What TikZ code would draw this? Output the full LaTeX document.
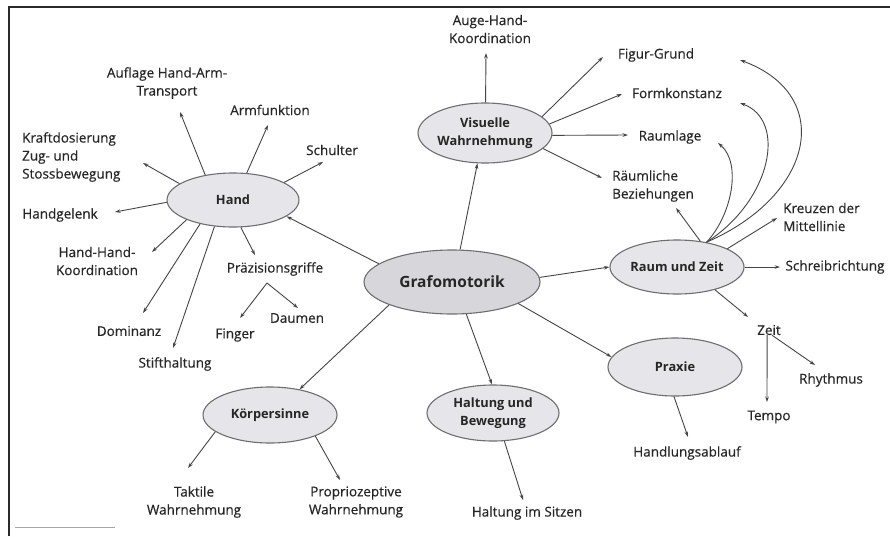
\documentclass[tikz,border=0pt]{standalone}
\usepackage{fontspec}
\setmainfont{Open Sans}
\newfontfamily\labfont[FakeBold=0.4]{Open Sans}
\usetikzlibrary{shapes.geometric,arrows.meta}
\definecolor{ink}{HTML}{262626}
\definecolor{linegray}{HTML}{454545}
\definecolor{edgegray}{HTML}{6E6E6E}
\definecolor{hubfill}{HTML}{E6E6EA}
\definecolor{grafofill}{HTML}{D7D7DB}
\definecolor{framegray}{HTML}{2A2A2A}
\begin{document}
\begin{tikzpicture}[x=1pt,y=-1pt,
  lab/.style={inner sep=0pt, align=center, text=ink, font=\labfont\fontsize{13.5}{18}\selectfont},
  hub/.style={ellipse, draw=edgegray, line width=1.1pt, fill=hubfill, inner sep=0pt},
  hubtext/.style={inner sep=0pt, align=center, text=ink, font=\fontsize{12.8}{17.5}\selectfont\bfseries},
  arr/.style={draw=linegray, line width=0.9pt, -{Stealth[length=5.5pt,width=3.6pt]}}]
\useasboundingbox (0,0) rectangle (890,536);
\fill[white] (0,0) rectangle (890,536);
% frame
\draw[line width=1.6pt, framegray] (9,536) -- (9,7) -- (890,7);
\draw[line width=0.8pt, black!35] (15,527) -- (115,527);

% hubs
\node[hub, fill=grafofill, minimum width=176, minimum height=64] (grafo) at (452,282) {};
\node[hubtext, font=\fontsize{15.5}{18}\selectfont\bfseries] (grafot) at (grafo) {Grafomotorik};
\node[hub, minimum width=132, minimum height=54] (hand) at (233,200) {};
\node[hubtext] (handt) at (hand) {Hand};
\node[hub, minimum width=134, minimum height=60] (vis) at (485,133) {};
\node[hubtext] (vist) at (vis) {Visuelle\\Wahrnehmung};
\node[hub, minimum width=134, minimum height=54] (raum) at (677,267) {};
\node[hubtext] (raumt) at (raum) {Raum und Zeit};
\node[hub, minimum width=134, minimum height=58] (praxie) at (675,367) {};
\node[hubtext] (praxiet) at (praxie) {Praxie};
\node[hub, minimum width=132, minimum height=56] (haltung) at (493,413) {};
\node[hubtext] (haltungt) at (haltung) {Haltung und\\Bewegung};
\node[hub, minimum width=134, minimum height=56] (koerper) at (270,415) {};
\node[hubtext] (koerpert) at (koerper) {Körpersinne};

% labels
\node[lab] (auflage) at (167,83) {Auflage Hand-Arm-\\Transport};
\node[lab] (armf) at (270,110) {Armfunktion};
\node[lab] (schulter) at (332,150) {Schulter};
\node[lab, anchor=west, align=left] (kraft) at (22,157) {Kraftdosierung\\Zug- und\\Stossbewegung};
\node[lab] (gelenk) at (60,215) {Handgelenk};
\node[lab] (handhand) at (97,261) {Hand-Hand-\\Koordination};
\node[lab] (dominanz) at (129,331) {Dominanz};
\node[lab] (stift) at (175,364) {Stifthaltung};
\node[lab] (praez) at (275,269) {Präzisionsgriffe};
\node[lab] (finger) at (235,335) {Finger};
\node[lab] (daumen) at (297,318) {Daumen};
\node[lab] (auge) at (490,29) {Auge-Hand-\\Koordination};
\node[lab] (figur) at (656,55) {Figur-Grund};
\node[lab] (form) at (677,93) {Formkonstanz};
\node[lab] (raumlage) at (670,137) {Raumlage};
\node[lab, anchor=west, align=left] (raeuml) at (612,186) {Räumliche\\Beziehungen};
\node[lab, anchor=west, align=left] (kreuzen) at (783,217) {Kreuzen der\\Mittellinie};
\node[lab] (schreib) at (835,267) {Schreibrichtung};
\node[lab] (zeit) at (769,330) {Zeit};
\node[lab] (rhythmus) at (831,380) {Rhythmus};
\node[lab] (tempo) at (769,417) {Tempo};
\node[lab] (handlung) at (687,453) {Handlungsablauf};
\node[lab] (sitzen) at (527,513) {Haltung im Sitzen};
\node[lab] (taktil) at (194,502) {Taktile\\Wahrnehmung};
\node[lab] (proprio) at (356,502) {Propriozeptive\\Wahrnehmung};

% arrow tips near labels
\coordinate (tAuf) at (180,112);
\coordinate (tArm) at (268,125);
\coordinate (tSchulter) at (323,162);
\coordinate (tKraft) at (143,163);
\coordinate (tGelenk) at (115,212);
\coordinate (tHandHand) at (152,252);
\coordinate (tDominanz) at (143,313);
\coordinate (tStift) at (173,348);
\coordinate (tPraez) at (255,255);
\coordinate (apex) at (267,283);
\coordinate (tFinger) at (240,318);
\coordinate (tDaumen) at (298,308);
\coordinate (tAuge) at (486,53);
\coordinate (tFigur) at (603,57);
\coordinate (tForm) at (622,94);
\coordinate (tRaumlage) at (628,135);
\coordinate (tRaeuml) at (602,178);
\coordinate (rFigur) at (740,60);
\coordinate (rForm) at (740,103);
\coordinate (rRaumlage) at (718,143);
\coordinate (rRaeuml) at (676,208);
\coordinate (tKreuzen) at (777,218);
\coordinate (tSchreib) at (780,267);
\coordinate (tZeit) at (748,317);
\coordinate (tTempo) at (767,402);
\coordinate (tRhythmus) at (815,365);
\coordinate (tHandlung) at (688,437);
\coordinate (tSitzen) at (523,500);
\coordinate (tTaktil) at (188,468);
\coordinate (tProprio) at (340,480);

% Grafomotorik
\draw[arr] (grafo.166) -- (hand.343);
\draw[arr] (grafo.76) -- (vis.256);
\draw[arr] (grafo.3) -- (raum.180);
\draw[arr] (grafo.342) -- (praxie.171);
\draw[arr] (grafo.294) -- (haltung.92);
\draw[arr] (grafo.200) -- (koerper.41);

% Hand
\draw[arr] (hand.138) -- (tAuf);
\draw[arr] (hand.63) -- (tArm);
\draw[arr] (hand.19) -- (tSchulter);
\draw[arr] (hand.163) -- (tKraft);
\draw[arr] (hand.182) -- (tGelenk);
\draw[arr] (hand.203) -- (tHandHand);
\draw[arr] (hand.216) -- (tDominanz);
\draw[arr] (hand.235) -- (tStift);
\draw[arr] (hand.286) -- (tPraez);
\draw[arr] (apex) -- (tFinger);
\draw[arr] (apex) -- (tDaumen);

% Visuelle Wahrnehmung
\draw[arr] (vis.89) -- (tAuge);
\draw[arr] (vis.16) -- (tFigur);
\draw[arr] (vis.8) -- (tForm);
\draw[arr] (vis.358) -- (tRaumlage);
\draw[arr] (vis.345) -- (tRaeuml);

% Raum und Zeit
\draw[arr] (raum.48) -- (rRaeuml);
\draw[arr] (raum.40) .. controls (732,215) and (742,163) .. (rRaumlage);
\draw[arr] (raum.40) .. controls (772,200) and (787,120) .. (rForm);
\draw[arr] (raum.40) .. controls (815,195) and (835,95) .. (rFigur);
\draw[arr] (raum.20) -- (tKreuzen);
\draw[arr] (raum.0) -- (tSchreib);
\draw[arr] (raum.329) -- (tZeit);
\draw[arr] (zeit.250) -- (tTempo);
\draw[arr] (zeit.300) -- (tRhythmus);

% Praxie, Haltung, Koerpersinne
\draw[arr] (praxie.268) -- (tHandlung);
\draw[arr] (haltung.292) -- (tSitzen);
\draw[arr] (koerper.197) -- (tTaktil);
\draw[arr] (koerper.335) -- (tProprio);
\end{tikzpicture}
\end{document}
